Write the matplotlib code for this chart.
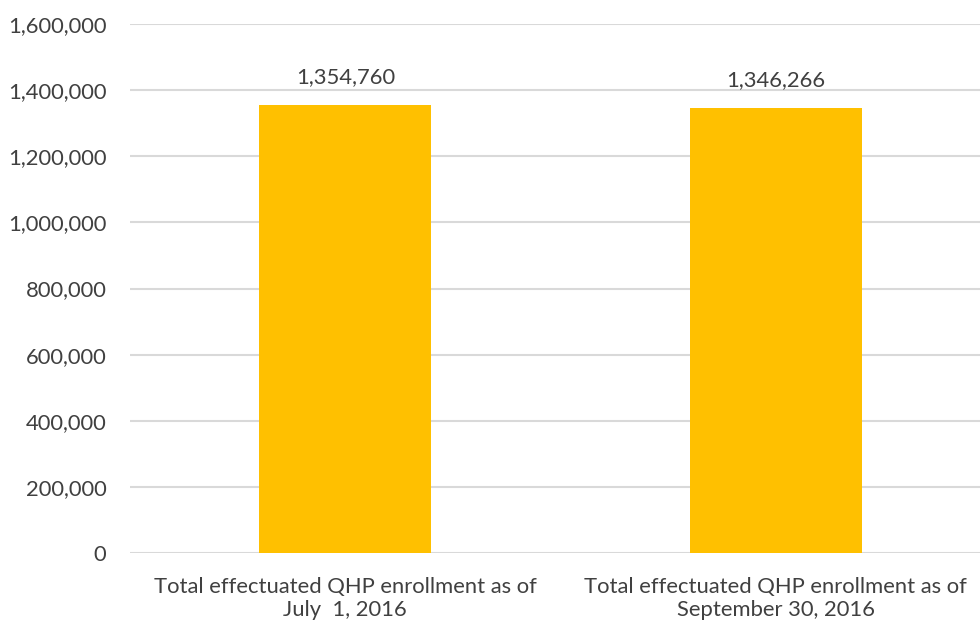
import matplotlib
matplotlib.use("Agg")
import matplotlib.pyplot as plt
from matplotlib.ticker import FuncFormatter

categories = ["Total effectuated QHP enrollment as of\nJuly  1, 2016",
              "Total effectuated QHP enrollment as of\nSeptember 30, 2016"]
values = [1354760, 1346266]
yticks = [0, 200000, 400000, 600000, 800000, 1000000, 1200000, 1400000, 1600000]

plt.rcParams['font.family'] = ['Lato', 'DejaVu Sans']
txt = '#404040'
fs = 15.8

fig = plt.figure(figsize=(9.8, 6.25), dpi=100)
ax = fig.add_axes([130/980, 72/625, 861/980, 529/625])

x = list(range(len(categories)))
ax.bar(x, values, width=0.4, color='#FFC000', zorder=3)
for xi, v in zip(x, values):
    ax.text(xi, v + 55000, f"{v:,}", ha='center', va='bottom', fontsize=fs, color=txt)

ax.set_xlim(-0.5, 1.5)
ax.set_ylim(0, 1600000)
ax.set_yticks(yticks)
ax.yaxis.set_major_formatter(FuncFormatter(lambda v, p: f"{int(v):,}"))
ax.set_xticks(x)
ax.set_xticklabels(categories, fontsize=fs, color=txt, linespacing=1.2)
ax.tick_params(axis='y', labelsize=fs, labelcolor=txt, length=0, pad=17)
ax.tick_params(axis='x', length=0, pad=17)
ax.grid(axis='y', color='#d9d9d9', linewidth=1.5, zorder=0)
for s in ax.spines.values():
    s.set_visible(False)

fig.savefig("out.png", dpi=100)
